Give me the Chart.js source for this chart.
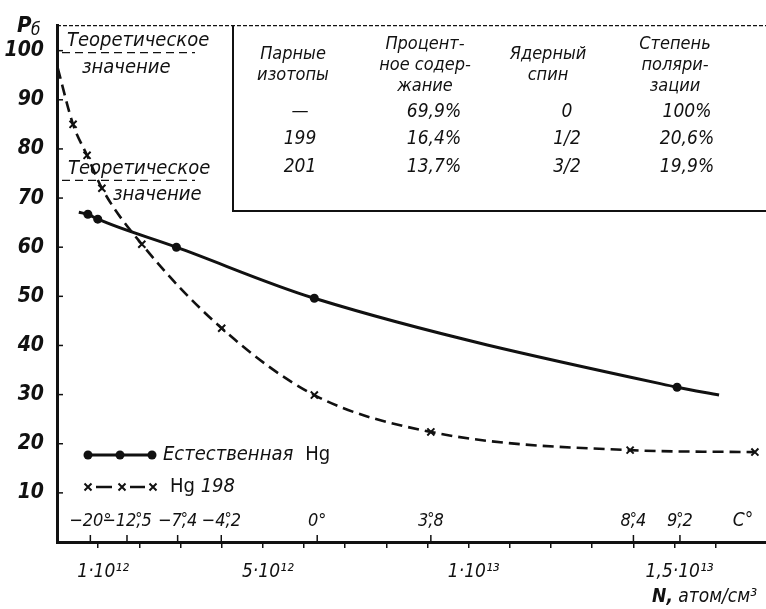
<!DOCTYPE html>
<html><head><meta charset="utf-8">
<script src="https://cdn.jsdelivr.net/npm/chart.js@4.4.1/dist/chart.umd.min.js"></script>
<style>html,body{margin:0;padding:0;background:#fff;overflow:hidden}canvas{display:block}</style>
</head><body><canvas id="c" width="766" height="609"></canvas>
<script>
// ---- data ----
const natN = [0.53e12, 0.75e12, 0.99e12, 2.9e12, 6.25e12, 15.06e12, 16.08e12];
const natP = [67.1, 66.7, 65.7, 60.0, 49.6, 31.5, 29.9];
const natMeasured = [false, true, true, true, true, true, false];

const hgN = [0.02e12, 0.39e12, 0.73e12, 1.09e12, 2.06e12, 4.0e12, 6.25e12, 9.08e12, 13.92e12, 16.95e12];
const hgP = [96.4, 85.0, 78.7, 72.0, 60.6, 43.5, 29.9, 22.4, 18.7, 18.3];
const hgMeasured = [false, true, true, true, true, true, true, true, true, true];

const theoryP = [99.6, 73.6];
const theoryLabel = ["Теоретическое", "значение"];

const yTickValues = [10, 20, 30, 40, 50, 60, 70, 80, 90, 100];
const xTickValues = Array.from({length: 16}, (_, i) => (i + 1) * 1e12);
const xLabelValues = [1e12, 5e12, 1e13, 1.5e13];
const xLabelTexts = ["1·10¹²", "5·10¹²", "1·10¹³", "1,5·10¹³"];

const tempN = [0.81e12, 1.70e12, 2.93e12, 3.99e12, 6.32e12, 9.08e12, 14.0e12, 15.13e12];
const tempLabels = ["−20°", "−12,5", "−7,4", "−4,2", "0°", "3,8", "8,4", "9,2"];
const tempUnit = "C°";

const tableHeaders = [["Парные", "изотопы"], ["Процент-", "ное содер-", "жание"], ["Ядерный", "спин"], ["Степень", "поляри-", "зации"]];
const tableRows = [["—", "69,9%", "0", "100%"], ["199", "16,4%", "1/2", "20,6%"], ["201", "13,7%", "3/2", "19,9%"]];

const legendNames = ["Естественная", "198"];

// ---- style ----
const FF = '"Liberation Sans Narrow","DejaVu Sans Condensed","Roboto Condensed","Liberation Sans",sans-serif';
function font(size, italic, bold) { return (italic ? 'italic ' : '') + (bold ? 'bold ' : '') + size + 'px ' + FF; }

function txt(ctx, s, x, y, f, align) {
  ctx.font = f; ctx.textAlign = align || 'left'; ctx.textBaseline = 'middle'; ctx.fillStyle = '#111';
  ctx.fillText(s, x, y);
}
function drawCross(ctx, x, y, r) {
  ctx.beginPath(); ctx.moveTo(x - r, y - r); ctx.lineTo(x + r, y + r);
  ctx.moveTo(x + r, y - r); ctx.lineTo(x - r, y + r); ctx.stroke();
}

const decor = {
  id: 'decor',
  afterDraw(chart) {
    const {ctx, chartArea: a, scales: {x, y}} = chart;
    const R = chart.width;
    ctx.save();
    ctx.strokeStyle = '#111'; ctx.fillStyle = '#111';
    // extend x axis line to the page edge
    ctx.lineWidth = 3;
    ctx.beginPath(); ctx.moveTo(a.right - 2, a.bottom + 0.5); ctx.lineTo(R, a.bottom + 0.5); ctx.stroke();
    // top dashed frame
    ctx.lineWidth = 1.2; ctx.setLineDash([4, 2]);
    ctx.beginPath(); ctx.moveTo(a.left, a.top); ctx.lineTo(R, a.top); ctx.stroke();
    ctx.setLineDash([]);
    // table box
    const bx = 233, by = 211;
    ctx.lineWidth = 2;
    ctx.beginPath(); ctx.moveTo(bx, a.top); ctx.lineTo(bx, by); ctx.lineTo(R, by); ctx.stroke();
    // inner y ticks
    ctx.lineWidth = 1.5;
    yTickValues.forEach(v => {
      const py = y.getPixelForValue(v);
      ctx.beginPath(); ctx.moveTo(a.left, py); ctx.lineTo(a.left + 6, py); ctx.stroke();
    });
    // theoretical lines
    ctx.lineWidth = 1.4; ctx.setLineDash([8, 5]);
    theoryP.forEach(v => {
      const py = y.getPixelForValue(v);
      ctx.beginPath(); ctx.moveTo(a.left + 5, py); ctx.lineTo(195, py); ctx.stroke();
    });
    ctx.setLineDash([]);
    const t0 = y.getPixelForValue(theoryP[0]), t1 = y.getPixelForValue(theoryP[1]);
    txt(ctx, theoryLabel[0], 67, t0 - 12, font(20, true));
    txt(ctx, theoryLabel[1], 82, t0 + 15, font(20, true));
    txt(ctx, theoryLabel[0], 68, t1 - 12, font(20, true));
    txt(ctx, theoryLabel[1], 113, t1 + 14, font(20, true));
    // table
    const hx = [293, 425, 548, 675], rx = [300, 434, 567, 687];
    tableHeaders.forEach((lines, i) => {
      const start = lines.length === 3 ? 44 : 54;
      lines.forEach((s, j) => txt(ctx, s, hx[i], start + j * 21, font(18, true), 'center'));
    });
    tableRows.forEach((row, r) => row.forEach((s, i) => txt(ctx, s, rx[i], 112 + r * 27.5, font(19, true), 'center')));
    // temperature ticks + labels
    ctx.lineWidth = 1.5;
    const ty = a.bottom - 21;
    tempN.forEach((n, i) => {
      const px = x.getPixelForValue(n);
      ctx.beginPath(); ctx.moveTo(px, a.bottom); ctx.lineTo(px, a.bottom - 7); ctx.stroke();
      const s = tempLabels[i], f = font(18, true);
      txt(ctx, s, px, ty, f, 'center');
      const ci = s.indexOf(',');
      if (ci >= 0) {
        ctx.font = f;
        const w = ctx.measureText(s).width;
        const pre = ctx.measureText(s.slice(0, ci + 1)).width;
        const cw = ctx.measureText(',').width;
        txt(ctx, '°', px - w / 2 + pre - cw / 2, ty - 1, font(16, false), 'center');
      }
    });
    txt(ctx, tempUnit, 743, ty, font(19, true), 'center');
    // axis title
    ctx.font = font(19, true);
    const rest = ' атом/см³';
    const rw = ctx.measureText(rest).width;
    txt(ctx, rest, 757, 597, font(19, true), 'right');
    txt(ctx, 'N,', 757 - rw, 597, font(19, true, true), 'right');
    // y label
    txt(ctx, 'P', 17, 26, font(22, true, true));
    txt(ctx, 'б', 31, 31, font(17, true));
    // legend
    const l1 = 455, l2 = 487;
    ctx.lineWidth = 3;
    ctx.beginPath(); ctx.moveTo(88, l1); ctx.lineTo(152, l1); ctx.stroke();
    [88, 120, 152].forEach(px => { ctx.beginPath(); ctx.arc(px, l1, 4.5, 0, Math.PI * 2); ctx.fill(); });
    txt(ctx, legendNames[0], 163, l1, font(20, true));
    ctx.font = font(20, true);
    const ew = ctx.measureText(legendNames[0]).width;
    txt(ctx, 'Hg', 163 + ew + 12, l1, font(20, false));
    ctx.lineWidth = 2;
    [88, 122, 153].forEach(px => drawCross(ctx, px, l2, 3.5));
    ctx.lineWidth = 2.5;
    [[96, 112], [130, 145]].forEach(([s, e]) => { ctx.beginPath(); ctx.moveTo(s, l2); ctx.lineTo(e, l2); ctx.stroke(); });
    txt(ctx, 'Hg', 170, l2, font(20, false));
    ctx.font = font(20, false);
    txt(ctx, legendNames[1], 170 + ctx.measureText('Hg ').width, l2, font(20, true));
    ctx.restore();
  }
};

new Chart(document.getElementById('c'), {
  type: 'scatter',
  data: {
    datasets: [
      {
        label: 'Естественная Hg',
        data: natN.map((n, i) => ({x: n, y: natP[i]})),
        showLine: true, borderColor: '#111', backgroundColor: '#111', borderWidth: 3,
        cubicInterpolationMode: 'monotone',
        pointStyle: 'circle', pointRadius: c => natMeasured[c.dataIndex] ? 4.5 : 0, pointBorderWidth: 0
      },
      {
        label: 'Hg 198',
        data: hgN.map((n, i) => ({x: n, y: hgP[i]})),
        showLine: true, borderColor: '#111', backgroundColor: '#111', borderWidth: 2.6, borderDash: [11, 6],
        cubicInterpolationMode: 'monotone', clip: 8,
        pointStyle: 'crossRot', pointRadius: c => hgMeasured[c.dataIndex] ? 5 : 0, pointBorderWidth: 2
      }
    ]
  },
  options: {
    responsive: false, animation: false, devicePixelRatio: 1,
    layout: {padding: {top: 25, right: 0, left: 0, bottom: 0}},
    plugins: {legend: {display: false}, tooltip: {enabled: false}},
    scales: {
      x: {
        type: 'linear', min: 0, max: 17.05e12,
        afterFit: s => { s.height = 67; s.paddingRight = 0; },
        afterBuildTicks: s => { s.ticks = xTickValues.map(v => ({value: v})); },
        border: {display: true, color: '#111', width: 3},
        grid: {drawOnChartArea: false, drawTicks: true, tickLength: 6, color: '#111', lineWidth: 1.5},
        ticks: {
          autoSkip: false, maxRotation: 0, padding: 13, labelOffset: 5, color: '#111',
          font: {family: FF, size: 19, style: 'italic'},
          callback: v => { const i = xLabelValues.findIndex(q => Math.abs(q - v) < 1e9); return i >= 0 ? xLabelTexts[i] : ''; }
        }
      },
      y: {
        type: 'linear', min: 0, max: 105.1,
        afterFit: s => { s.width = 57; },
        afterBuildTicks: s => { s.ticks = yTickValues.map(v => ({value: v})); },
        border: {display: true, color: '#111', width: 3},
        grid: {display: false, drawTicks: false},
        ticks: {padding: 13, color: '#111', font: {family: FF, size: 21, style: 'italic', weight: 'bold'}}
      }
    }
  },
  plugins: [decor]
});
</script>
</body></html>
